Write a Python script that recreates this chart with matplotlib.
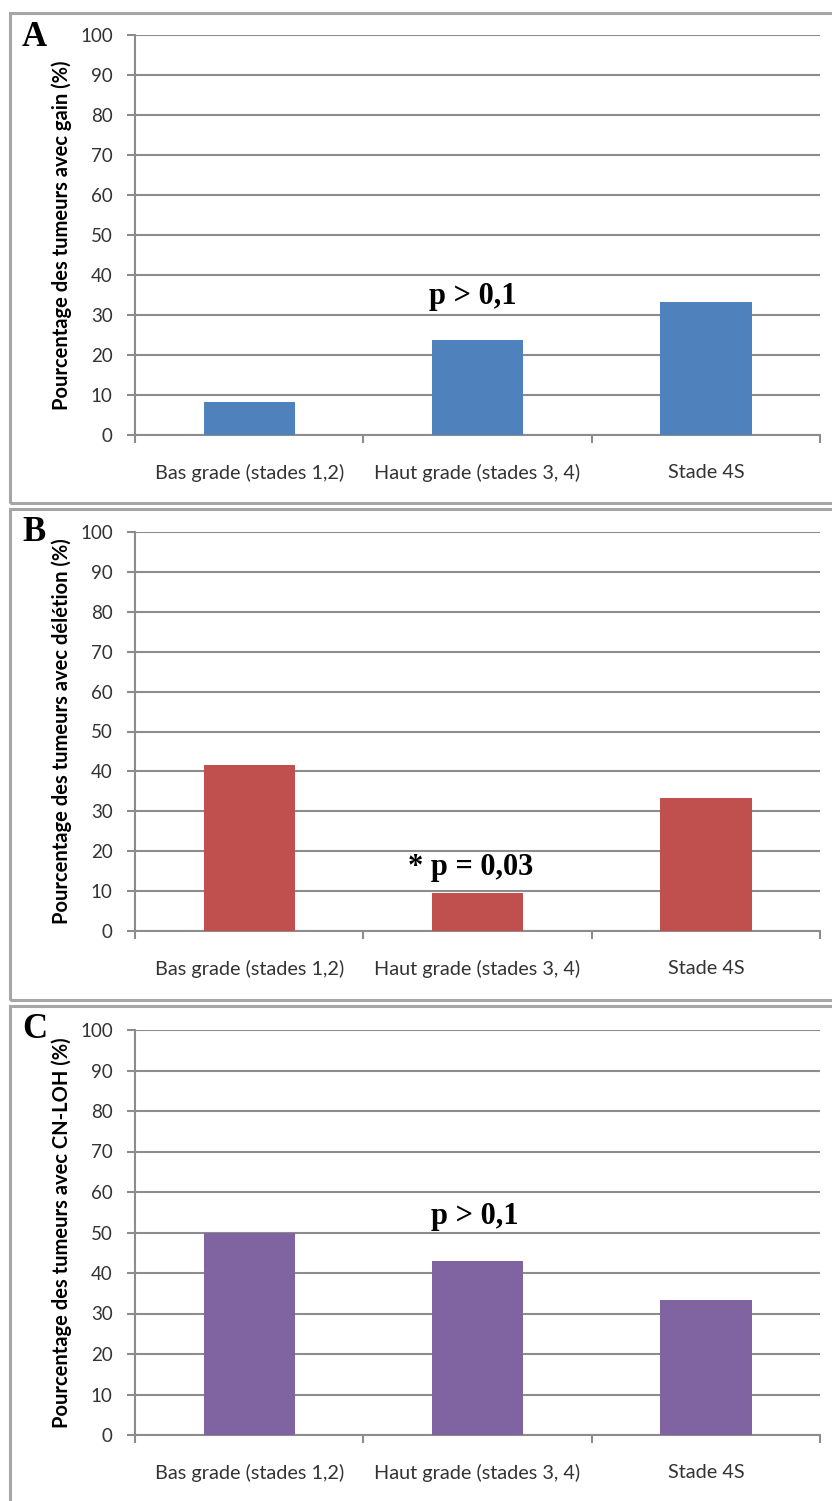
import matplotlib.pyplot as plt
from matplotlib.patches import Rectangle

categories = ['Bas grade (stades 1,2)', 'Haut grade (stades 3, 4)', 'Stade 4S']
gain = [8.3, 23.8, 33.3]
deletion = [41.7, 9.5, 33.3]
cnloh = [50.0, 43.0, 33.3]

ylabels = ['Pourcentage des tumeurs avec gain (%)',
           'Pourcentage des tumeurs avec délétion (%)',
           'Pourcentage des tumeurs avec CN-LOH (%)']
letters = ['A', 'B', 'C']
colors = ['#4F81BD', '#C0504D', '#8064A2']
pvals = ['p > 0,1', '* p = 0,03', 'p > 0,1']
pval_x = [0.98, 0.97, 0.99]
pval_y = [34.5, 15.8, 54.0]

W, H = 832, 1501
fig = plt.figure(figsize=(W / 100, H / 100), dpi=100)

# pixel layout of each panel: (box top, box bottom, axes top, axes bottom)
panels = [(13, 503, 35, 435), (509, 1000, 532, 931), (1006, 1530, 1030, 1435)]
grid_col = '#8c8c8c'

for i, values in enumerate([gain, deletion, cnloh]):
    btop, bbot, atop, abot = panels[i]
    fig.patches.append(Rectangle((10 / W, 1 - bbot / H), 1.0, (bbot - btop) / H,
                                 transform=fig.transFigure, fill=False,
                                 edgecolor='#a6a6a6', lw=2.2, zorder=0))
    ax = fig.add_axes([135 / W, 1 - abot / H, 685 / W, (abot - atop) / H])
    x = range(len(categories))
    ax.bar(x, values, width=0.4, color=colors[i], zorder=3)
    ax.set_xlim(-0.5, 2.5)
    ax.set_ylim(0, 100)
    ax.set_yticks(range(0, 101, 10))
    ax.set_xticks(list(x))
    ax.set_xticklabels(categories, fontsize=14.3, family='Lato', color='#333333')
    ax.set_xticks([-0.5, 0.5, 1.5, 2.5], minor=True)
    ax.tick_params(axis='x', which='major', length=0, pad=21)
    ax.tick_params(axis='x', which='minor', length=6, width=1.5, color=grid_col, direction='out')
    ax.tick_params(axis='y', length=6, width=1.5, color=grid_col, labelsize=13.5,
                   labelcolor='#333333', pad=10)
    for lab in ax.get_yticklabels():
        lab.set_family('Lato')
    ax.yaxis.grid(True, color=grid_col, lw=1.5, zorder=0)
    for s in ['top', 'right']:
        ax.spines[s].set_visible(False)
    for s in ['left', 'bottom']:
        ax.spines[s].set_color(grid_col)
        ax.spines[s].set_linewidth(1.5)
    ax.set_ylabel(ylabels[i], fontsize=14.5, fontweight='bold', family='Lato',
                  labelpad=6)
    ax.text(pval_x[i], pval_y[i], pvals[i], ha='center', va='center', fontsize=22,
            fontweight='bold', family='Liberation Serif')
    fig.text(22 / W, 1 - (btop + 24) / H, letters[i], fontsize=25, fontweight='bold',
             family='Liberation Serif', va='center', ha='left')

fig.savefig('out.png', dpi=100)
